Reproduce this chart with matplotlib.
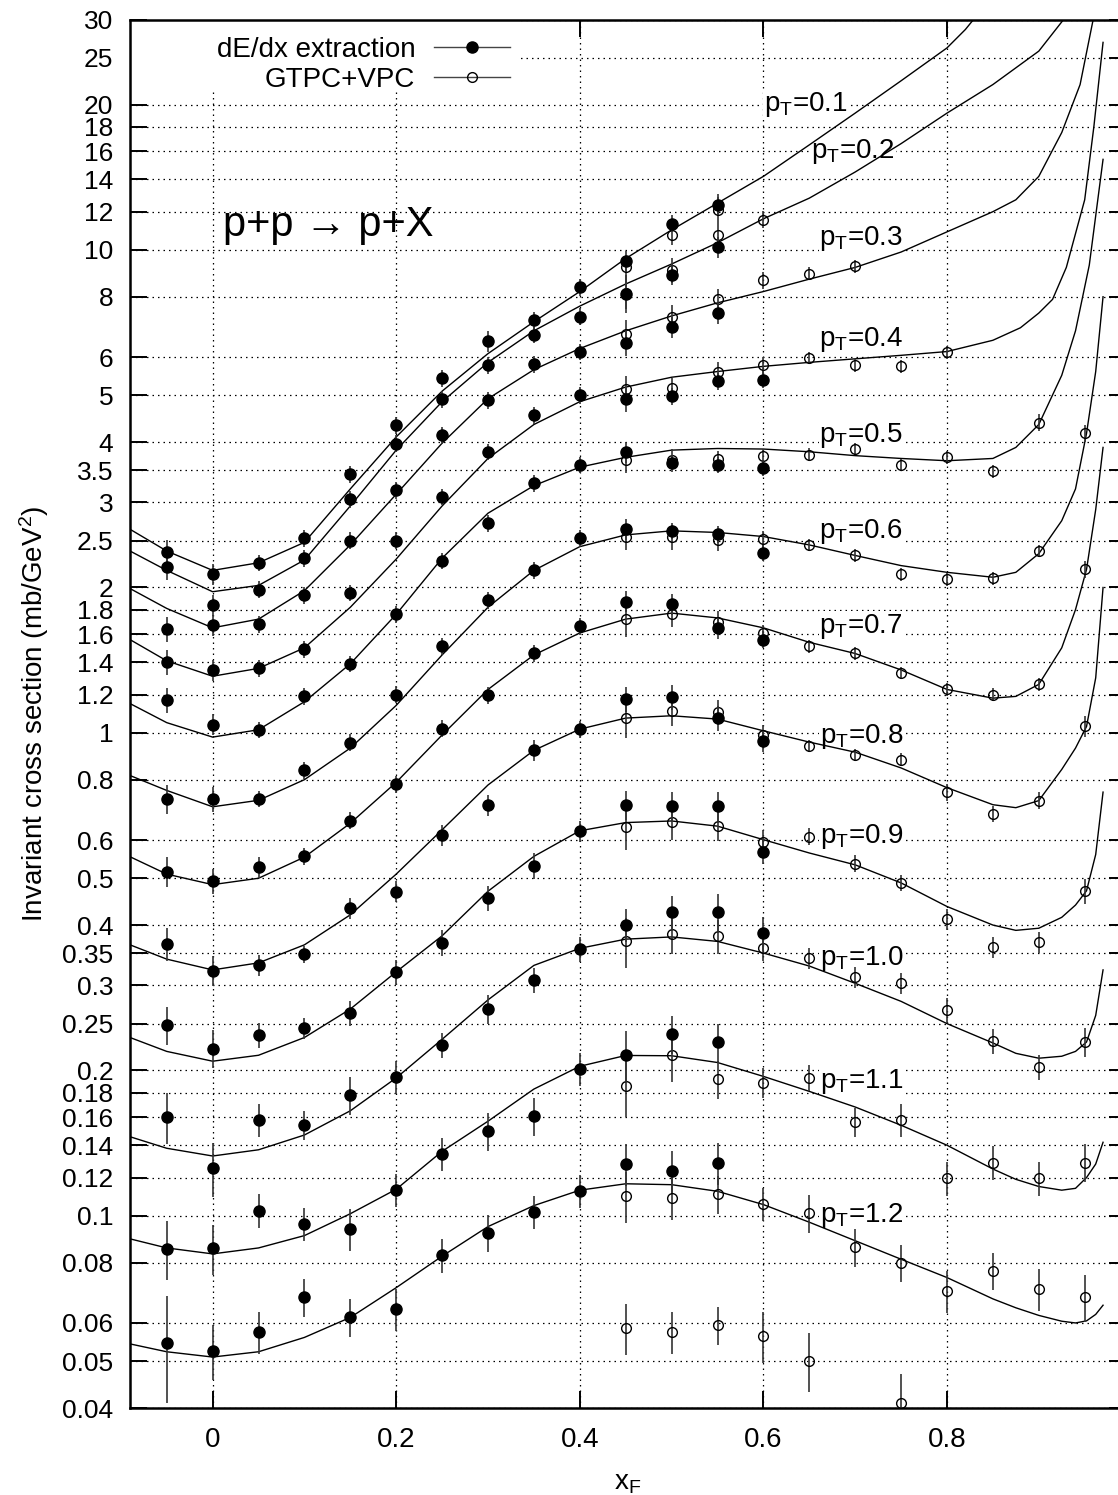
import matplotlib
matplotlib.use('Agg')
import matplotlib.pyplot as plt
from matplotlib.lines import Line2D
from matplotlib.patches import Rectangle
from matplotlib.ticker import FixedLocator, FixedFormatter, NullLocator

plt.rcParams['font.family'] = ['Liberation Sans', 'DejaVu Sans']
plt.rcParams['mathtext.default'] = 'regular'

# ---- data ----
pt_labels = ['0.1', '0.2', '0.3', '0.4', '0.5', '0.6', '0.7', '0.8', '0.9', '1.0', '1.1', '1.2']
label_x = [0.601, 0.652, 0.661, 0.661, 0.661, 0.661, 0.661, 0.662, 0.662, 0.662, 0.662, 0.662]
label_y = [19.4, 15.5, 10.26, 6.31, 4.0, 2.53, 1.61, 0.952, 0.592, 0.331, 0.1835, 0.097]

# dE/dx extraction (filled)
filled_x = [-0.05, 0.0, 0.05, 0.1, 0.15, 0.2, 0.25, 0.3, 0.35, 0.4, 0.45, 0.5, 0.55, 0.6]
filled_pt01 = [2.37, 2.13, 2.25, 2.53, 3.43, 4.33, 5.42, 6.47, 7.16, 8.37, 9.47, 11.34, 12.41, None]
filled_pt02 = [2.20, 1.84, 1.98, 2.30, 3.05, 3.97, 4.91, 5.77, 6.67, 7.28, 8.11, 8.89, 10.13, None]
filled_pt03 = [1.64, 1.67, 1.68, 1.93, 2.50, 3.18, 4.13, 4.88, 5.80, 6.15, 6.42, 6.92, 7.41, None]
filled_pt04 = [1.40, 1.35, 1.36, 1.49, 1.95, 2.50, 3.08, 3.82, 4.55, 5.00, 4.91, 4.98, 5.35, 5.39]
filled_pt05 = [1.17, 1.04, 1.015, 1.19, 1.39, 1.76, 2.27, 2.72, 3.29, 3.59, 3.82, 3.62, 3.59, 3.54]
filled_pt06 = [0.729, 0.730, 0.730, 0.836, 0.955, 1.20, 1.51, 1.88, 2.17, 2.53, 2.64, 2.62, 2.58, 2.36]
filled_pt07 = [0.516, 0.494, 0.528, 0.555, 0.658, 0.782, 1.02, 1.196, 1.463, 1.661, 1.87, 1.85, 1.65, 1.56]
filled_pt08 = [0.366, 0.322, 0.331, 0.348, 0.434, 0.469, 0.615, 0.709, 0.92, 1.018, 1.175, 1.186, 1.073, 0.960]
filled_pt09 = [0.248, 0.222, 0.237, 0.245, 0.263, 0.320, 0.368, 0.454, 0.531, 0.627, 0.710, 0.704, 0.704, 0.568]
filled_pt10 = [0.160, 0.1255, 0.158, 0.1543, 0.178, 0.194, 0.226, 0.268, 0.308, 0.357, 0.4005, 0.4247, 0.4247, 0.385]
filled_pt11 = [0.0855, 0.0856, 0.1025, 0.0962, 0.0938, 0.1132, 0.1343, 0.150, 0.161, 0.2017, 0.2152, 0.2381, 0.2289, None]
filled_pt12 = [0.0545, 0.0525, 0.0576, 0.0678, 0.0616, 0.0641, 0.0829, 0.0923, 0.102, 0.1126, 0.1281, 0.1239, 0.1289, None]

# relative errors (percent) of the filled points
ferr_pt01 = [6, 5, 4, 4, 4, 4, 4, 5, 4, 4, 5, 4, 5, None]
ferr_pt02 = [6, 5, 4, 4, 4, 4, 4, 4, 4, 4, 7, 5, 5, None]
ferr_pt03 = [6, 5, 4, 4, 4, 4, 4, 4, 4, 4, 6, 5, 5, None]
ferr_pt04 = [6, 5, 4, 4, 4, 4, 4, 4, 4, 4, 6, 4, 4, 4]
ferr_pt05 = [6, 5, 4, 4, 4, 4, 4, 4, 4, 4, 5, 4, 4, 4]
ferr_pt06 = [7, 6, 4, 4, 4, 4, 4, 4, 4, 4, 5, 4, 4, 4]
ferr_pt07 = [7, 6, 5, 4, 4, 4, 4, 4, 4, 4, 5, 5, 5, 4]
ferr_pt08 = [8, 7, 5, 4, 5, 5, 5, 5, 5, 4, 6, 6, 6, 5]
ferr_pt09 = [9, 9, 6, 5, 6, 6, 6, 6, 6, 5, 7, 7, 7, 6]
ferr_pt10 = [12, 13, 8, 7, 9, 8, 6, 7, 6, 6, 8, 8, 9, 8]
ferr_pt11 = [14, 12, 8, 8, 10, 8, 8, 9, 9, 8, 12, 9, 9, None]
ferr_pt12 = [25, 13, 10, 9, 9, 10, 8, 9, 8, 8, 10, 10, 10, None]

# GTPC+VPC (open)
open_x = [0.45, 0.5, 0.55, 0.6, 0.65, 0.7, 0.75, 0.8, 0.85, 0.9, 0.95]
open_pt01 = [9.21, 10.76, 12.12, None, None, None, None, None, None, None, None]
open_pt02 = [8.15, 9.07, 10.72, 11.56, None, None, None, None, None, None, None]
open_pt03 = [6.70, 7.27, 7.92, 8.65, 8.93, 9.25, None, None, None, None, None]
open_pt04 = [5.16, 5.18, 5.59, 5.77, 5.98, 5.77, 5.74, 6.14, None, None, None]
open_pt05 = [3.68, 3.68, 3.69, 3.75, 3.77, 3.87, 3.59, 3.72, 3.48, 4.39, None]
open_pt06 = [2.54, 2.54, 2.51, 2.52, 2.45, 2.33, 2.13, 2.08, 2.09, 2.38, 4.17]
open_pt07 = [1.72, 1.76, 1.70, 1.61, 1.51, 1.46, 1.33, 1.23, 1.20, 1.26, 2.18]
open_pt08 = [1.073, 1.111, 1.102, 0.991, 0.940, 0.901, 0.880, 0.753, 0.680, 0.724, 1.031]
open_pt09 = [0.637, 0.6525, 0.642, 0.594, 0.610, 0.536, 0.489, 0.4116, 0.360, 0.369, 0.471]
open_pt10 = [0.370, 0.3832, 0.379, 0.359, 0.342, 0.312, 0.303, 0.267, 0.2296, 0.2032, 0.2289]
open_pt11 = [0.1859, 0.2155, 0.1922, 0.1888, 0.1933, 0.1563, 0.158, 0.1197, 0.1289, 0.1197, 0.1289]
open_pt12 = [0.1100, 0.1091, 0.1110, 0.1059, 0.1013, 0.0860, 0.0800, 0.0699, 0.0770, 0.0706, 0.0678]
open_low = [0.0585, 0.0576, 0.0594, 0.0564, 0.0501, None, 0.0410, None, None, None, None]

oerr_pt01 = [6, 5, 6, None, None, None, None, None, None, None, None]
oerr_pt02 = [9, 6, 6, 4, None, None, None, None, None, None, None]
oerr_pt03 = [7, 6, 5, 4, 3, 3, None, None, None, None, None]
oerr_pt04 = [6, 5, 5, 4, 3, 3, 3, 3, None, None, None]
oerr_pt05 = [6, 5, 4, 3, 3, 3, 3, 3, 3, 4, None]
oerr_pt06 = [6, 6, 5, 4, 3, 3, 3, 3, 3, 3, 4]
oerr_pt07 = [8, 6, 5, 4, 3, 3, 3, 3, 3, 3, 4]
oerr_pt08 = [9, 7, 6, 5, 3, 3, 3, 4, 4, 4, 5]
oerr_pt09 = [10, 8, 7, 6, 4, 4, 4, 5, 5, 5, 6]
oerr_pt10 = [12, 9, 8, 6, 5, 5, 5, 6, 6, 6, 7]
oerr_pt11 = [14, 12, 9, 7, 6, 7, 8, 8, 8, 8, 9]
oerr_pt12 = [12, 10, 9, 8, 9, 9, 9, 10, 9, 10, 11]
oerr_low = [12, 10, 9, 12, 14, None, 15, None, None, None, None]

# fitted curves
fit_x1 = [-0.09, -0.05, 0.0, 0.05, 0.1, 0.15, 0.2, 0.25, 0.3, 0.35, 0.4, 0.45, 0.5, 0.55, 0.6, 0.65, 0.7, 0.75, 0.8, 0.82, 0.835]
fit_pt01 = [2.64, 2.38, 2.17, 2.25, 2.48, 3.2, 4.1, 5.1, 6.1, 7.1, 8.2, 9.6, 11.0, 12.5, 14.2, 16.5, 19.2, 22.4, 26.2, 28.6, 31.0]
fit_x2 = [-0.09, -0.05, 0.0, 0.05, 0.1, 0.15, 0.2, 0.25, 0.3, 0.35, 0.4, 0.45, 0.5, 0.55, 0.6, 0.65, 0.7, 0.75, 0.8, 0.85, 0.9, 0.93]
fit_pt02 = [2.38, 2.17, 1.96, 2.02, 2.28, 2.95, 3.85, 4.85, 5.85, 6.8, 7.65, 8.5, 9.35, 10.35, 11.6, 12.8, 14.5, 16.6, 19.2, 22.0, 25.8, 30.5]
fit_x3 = [-0.09, -0.05, 0.0, 0.05, 0.1, 0.15, 0.2, 0.25, 0.3, 0.35, 0.4, 0.45, 0.5, 0.55, 0.6, 0.65, 0.7, 0.75, 0.8, 0.85, 0.875, 0.9, 0.925, 0.945, 0.96]
fit_pt03 = [1.99, 1.81, 1.65, 1.72, 1.97, 2.45, 3.12, 3.98, 4.92, 5.65, 6.25, 6.8, 7.3, 7.77, 8.2, 8.7, 9.2, 9.9, 10.9, 12.0, 12.7, 14.2, 17.5, 22.0, 30.5]
fit_x4 = [-0.09, -0.05, 0.0, 0.05, 0.1, 0.15, 0.2, 0.25, 0.3, 0.35, 0.4, 0.45, 0.5, 0.55, 0.6, 0.65, 0.7, 0.75, 0.8, 0.85, 0.88, 0.9, 0.915, 0.93, 0.95, 0.96, 0.97]
fit_pt04 = [1.56, 1.41, 1.31, 1.36, 1.50, 1.82, 2.29, 2.95, 3.7, 4.35, 4.85, 5.2, 5.45, 5.6, 5.74, 5.85, 5.95, 6.05, 6.16, 6.5, 6.9, 7.4, 7.9, 9.2, 12.7, 18.0, 26.9]
fit_x5 = [-0.09, -0.05, 0.0, 0.05, 0.1, 0.15, 0.2, 0.25, 0.3, 0.35, 0.4, 0.45, 0.5, 0.55, 0.6, 0.65, 0.7, 0.75, 0.8, 0.85, 0.875, 0.9, 0.925, 0.94, 0.955, 0.97]
fit_pt05 = [1.15, 1.05, 0.98, 1.015, 1.16, 1.39, 1.76, 2.3, 2.85, 3.25, 3.55, 3.72, 3.85, 3.88, 3.87, 3.82, 3.75, 3.7, 3.66, 3.7, 3.9, 4.35, 5.5, 6.8, 9.3, 15.4]
fit_x = [-0.09, -0.05, 0.0, 0.05, 0.1, 0.15, 0.2, 0.25, 0.3, 0.35, 0.4, 0.45, 0.5, 0.55, 0.6, 0.65, 0.7, 0.75, 0.8, 0.85, 0.875, 0.9, 0.925, 0.94, 0.952, 0.962, 0.97]
fit_pt06 = [0.816, 0.76, 0.703, 0.725, 0.80, 0.93, 1.14, 1.45, 1.82, 2.17, 2.43, 2.57, 2.62, 2.6, 2.55, 2.45, 2.33, 2.22, 2.15, 2.1, 2.15, 2.35, 2.75, 3.2, 4.17, 5.6, 8.0]
fit_pt07 = [0.554, 0.51, 0.485, 0.50, 0.553, 0.65, 0.79, 0.99, 1.23, 1.45, 1.61, 1.72, 1.77, 1.73, 1.65, 1.54, 1.46, 1.35, 1.23, 1.18, 1.19, 1.26, 1.5, 1.8, 2.18, 2.9, 3.9]
fit_pt08 = [0.364, 0.34, 0.323, 0.334, 0.364, 0.42, 0.51, 0.63, 0.78, 0.92, 1.018, 1.073, 1.085, 1.068, 1.01, 0.957, 0.912, 0.846, 0.77, 0.71, 0.70, 0.724, 0.84, 0.93, 1.031, 1.3, 2.0]
fit_pt09 = [0.234, 0.219, 0.209, 0.215, 0.234, 0.268, 0.32, 0.38, 0.47, 0.555, 0.627, 0.652, 0.657, 0.641, 0.601, 0.564, 0.533, 0.489, 0.437, 0.40, 0.39, 0.394, 0.415, 0.44, 0.471, 0.56, 0.754]
fit_pt10 = [0.1458, 0.138, 0.133, 0.137, 0.147, 0.165, 0.193, 0.232, 0.28, 0.33, 0.358, 0.374, 0.378, 0.37, 0.35, 0.329, 0.303, 0.278, 0.25, 0.228, 0.217, 0.212, 0.214, 0.219, 0.229, 0.26, 0.323]
fit_pt11 = [0.0896, 0.0858, 0.0834, 0.0858, 0.091, 0.101, 0.1135, 0.136, 0.157, 0.183, 0.204, 0.2148, 0.2145, 0.2077, 0.1944, 0.181, 0.168, 0.154, 0.14, 0.125, 0.119, 0.115, 0.113, 0.114, 0.12, 0.128, 0.142]
fit_pt12 = [0.0543, 0.0523, 0.051, 0.0523, 0.056, 0.0616, 0.071, 0.0825, 0.095, 0.105, 0.113, 0.1165, 0.116, 0.1124, 0.1055, 0.097, 0.0888, 0.0813, 0.0745, 0.0673, 0.0645, 0.0622, 0.0605, 0.060, 0.0606, 0.0625, 0.0653]

ytick_vals = [0.04, 0.05, 0.06, 0.08, 0.1, 0.12, 0.14, 0.16, 0.18, 0.2, 0.25, 0.3, 0.35, 0.4, 0.5,
              0.6, 0.8, 1, 1.2, 1.4, 1.6, 1.8, 2, 2.5, 3, 3.5, 4, 5, 6, 8, 10, 12, 14, 16, 18, 20, 25, 30]
ytick_text = ['0.04', '0.05', '0.06', '0.08', '0.1', '0.12', '0.14', '0.16', '0.18', '0.2', '0.25', '0.3',
              '0.35', '0.4', '0.5', '0.6', '0.8', '1', '1.2', '1.4', '1.6', '1.8', '2', '2.5', '3', '3.5',
              '4', '5', '6', '8', '10', '12', '14', '16', '18', '20', '25', '30']
xtick_vals = [0, 0.2, 0.4, 0.6, 0.8]
xtick_text = ['0', '0.2', '0.4', '0.6', '0.8']

filled_rows = [filled_pt01, filled_pt02, filled_pt03, filled_pt04, filled_pt05, filled_pt06,
               filled_pt07, filled_pt08, filled_pt09, filled_pt10, filled_pt11, filled_pt12]
ferr_rows = [ferr_pt01, ferr_pt02, ferr_pt03, ferr_pt04, ferr_pt05, ferr_pt06,
             ferr_pt07, ferr_pt08, ferr_pt09, ferr_pt10, ferr_pt11, ferr_pt12]
open_rows = [open_pt01, open_pt02, open_pt03, open_pt04, open_pt05, open_pt06,
             open_pt07, open_pt08, open_pt09, open_pt10, open_pt11, open_pt12, open_low]
oerr_rows = [oerr_pt01, oerr_pt02, oerr_pt03, oerr_pt04, oerr_pt05, oerr_pt06,
             oerr_pt07, oerr_pt08, oerr_pt09, oerr_pt10, oerr_pt11, oerr_pt12, oerr_low]
fits = [(fit_x1, fit_pt01), (fit_x2, fit_pt02), (fit_x3, fit_pt03), (fit_x4, fit_pt04),
        (fit_x5, fit_pt05), (fit_x, fit_pt06), (fit_x, fit_pt07), (fit_x, fit_pt08),
        (fit_x, fit_pt09), (fit_x, fit_pt10), (fit_x, fit_pt11), (fit_x, fit_pt12)]

FS = 20
W, H = 1118, 1495
fig = plt.figure(figsize=(W / 100, H / 100), dpi=100)
ax = fig.add_axes([130 / W, (H - 1408) / H, (1126 - 130) / W, (1408 - 19.5) / H])
ax.set_yscale('log')
ax.set_xlim(-0.09, 0.995)
ax.set_ylim(0.04, 30)

ax.yaxis.set_major_locator(FixedLocator(ytick_vals))
ax.yaxis.set_major_formatter(FixedFormatter(ytick_text))
ax.yaxis.set_minor_locator(NullLocator())
ax.xaxis.set_major_locator(FixedLocator(xtick_vals))
ax.xaxis.set_major_formatter(FixedFormatter(xtick_text))
ax.xaxis.set_minor_locator(NullLocator())
ax.tick_params(which='major', direction='in', length=12, width=1.4, labelsize=FS,
               top=True, right=True, pad=12)
ax.tick_params(axis='y', labelsize=19)
ax.tick_params(axis='x', pad=14)
for sp in ax.spines.values():
    sp.set_linewidth(1.8)

ax.set_axisbelow(True)
ax.grid(True, which='major', color='black', linewidth=0.9, linestyle=(0, (1.2, 3.2)))

# white key area (hides the grid behind the legend, as in the original)
ax.add_patch(Rectangle((-0.09, 21.5), 0.424, 10, facecolor='white', edgecolor='none', zorder=1))


def pick(xs, ys, es):
    px, py, pe = [], [], []
    for i in range(len(xs)):
        if ys[i] is not None:
            px.append(xs[i])
            py.append(ys[i])
            pe.append(ys[i] * es[i] / 100.0)
    return px, py, pe


for fx, fy in fits:
    ax.plot(fx, fy, color='black', linewidth=1.0, zorder=2)

for ys, es in zip(open_rows, oerr_rows):
    px, py, pe = pick(open_x, ys, es)
    ax.errorbar(px, py, yerr=pe, fmt='o', ms=7, mfc='none', mec='black', mew=1.0,
                ecolor='#333333', elinewidth=1.2, capsize=0, zorder=3)

for ys, es in zip(filled_rows, ferr_rows):
    px, py, pe = pick(filled_x, ys, es)
    ax.errorbar(px, py, yerr=pe, fmt='o', ms=8, mfc='black', mec='black',
                ecolor='#333333', elinewidth=1.2, capsize=0, zorder=4)

for lab, lx, ly in zip(pt_labels, label_x, label_y):
    ax.text(lx, ly, '$p_T$=' + lab, fontsize=FS, ha='left', va='baseline', zorder=1.5,
            bbox=dict(facecolor='white', edgecolor='none', pad=0.5))

ax.text(0.011, 10.7, 'p+p \u2192 p+X', fontsize=30, ha='left', va='baseline', zorder=1.5)

ax.set_xlabel('x$_F$', fontsize=FS, labelpad=12)
ax.set_ylabel('Invariant cross section (mb/GeV$^2$)', fontsize=FS, labelpad=8)

handles = [Line2D([0], [0], color='#444444', lw=1.0, marker='o', ms=8, mfc='black', mec='black'),
           Line2D([0], [0], color='#444444', lw=1.0, marker='o', ms=7, mfc='none', mec='black')]
leg = fig.legend(handles, ['dE/dx extraction', 'GTPC+VPC'], loc='upper right',
                 bbox_to_anchor=(522 / W, 1 - 25 / H), bbox_transform=fig.transFigure,
                 fontsize=FS, markerfirst=False, frameon=False, borderpad=0.43,
                 handlelength=2.73, handletextpad=0.68, labelspacing=0.15, borderaxespad=0)

fig.savefig('out.png', dpi=100)
